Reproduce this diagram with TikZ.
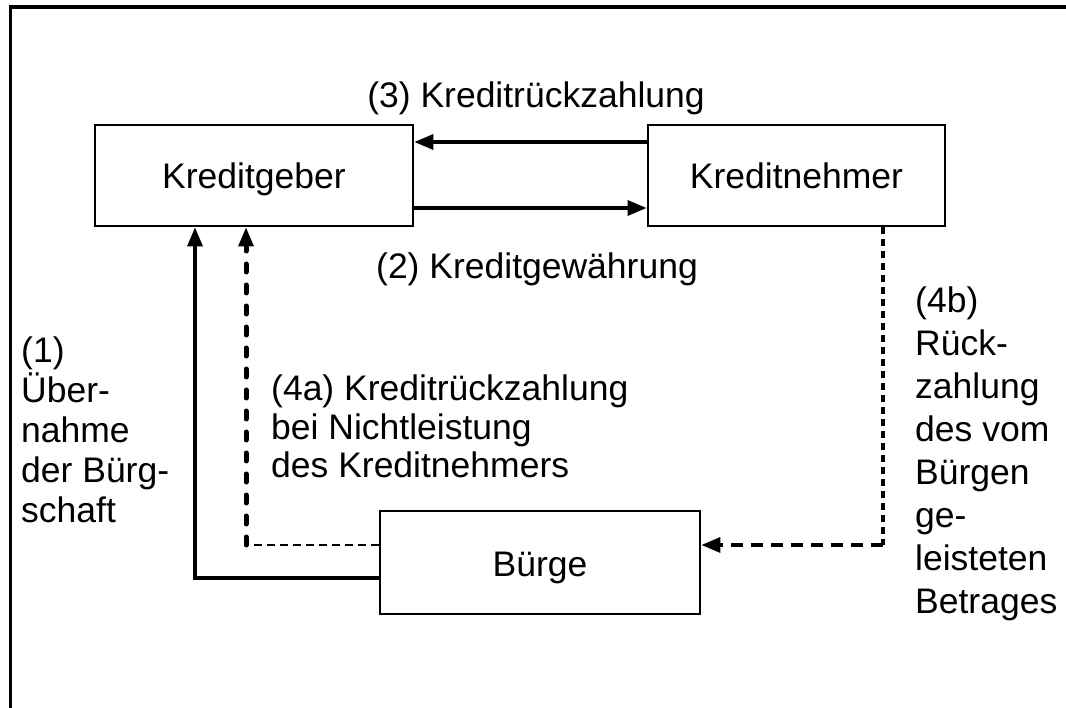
\documentclass[tikz,border=0pt]{standalone}
\usepackage{fontspec}
\setmainfont{Liberation Sans}
\usetikzlibrary{arrows.meta}
\begin{document}
\begin{tikzpicture}[x=1pt,y=-1pt,
  party/.style={draw, line width=2.8pt, inner sep=0pt, minimum height=101pt,
    text height=30pt, text depth=3pt, font=\fontsize{35.5}{40}\selectfont},
  lbl/.style={inner sep=0pt, align=left},
  head/.style={-{Triangle[length=19pt,width=15pt]}},
  flow/.style={line width=3.4pt, head},
  thindash/.style={line width=2.4pt, dash pattern=on 8pt off 5pt},
  middash/.style={line width=3.4pt, dash pattern=on 7pt off 5pt},
  thickdash/.style={line width=5pt, line cap=round, dash pattern=on 8pt off 13pt},
  boldash/.style={line width=4.5pt, dash pattern=on 12pt off 8pt},
]
\useasboundingbox (0,0) rectangle (1066,708);
\fill[white] (0,0) rectangle (1066,708);

% outer frame (top and left edges)
\draw[line width=3.4pt] (10.5,712) -- (10.5,7) -- (1070,7);

% parties
\node[party, minimum width=318pt] (kg) at (254,175.5) {Kreditgeber};
\node[party, minimum width=297pt] (kn) at (796.5,175.5) {Kreditnehmer};
\node[party, minimum width=320pt, minimum height=103pt] (bg) at (540,562.5) {Bürge};

% (2) and (3): credit and repayment
\draw[flow] ([yshift=33.5pt]kn.west) -- ([yshift=33.5pt]kg.east);
\draw[flow] ([yshift=-32.5pt]kg.east) -- ([yshift=-32.5pt]kn.west);

% (1): guarantee
\draw[flow] ([yshift=-15.5pt]bg.west) -| ([xshift=-59pt]kg.south);

% (4a): repayment by the guarantor
\coordinate (a4top) at ([xshift=-8pt]kg.south);
\coordinate (a4start) at ([yshift=17.5pt]bg.west);
\coordinate (a4corner) at (a4top |- a4start);
\draw[thindash] (a4start) -- (a4corner);
\draw[thickdash] (a4corner) -- ([yshift=-20pt]a4top);
\draw[line width=3.4pt, head] ([yshift=-19pt]a4top) -- (a4top);

% (4b): reimbursement of the guarantor
\coordinate (b4top) at ([xshift=86.5pt]kn.south);
\coordinate (b4end) at ([yshift=17.5pt]bg.east);
\coordinate (b4corner) at (b4top |- b4end);
\draw[middash] (b4top) -- (b4corner);
\draw[boldash] (b4corner) -- ([xshift=19pt]b4end);
\draw[line width=3.4pt, head] ([xshift=19pt]b4end) -- (b4end);

% labels
\node[lbl, font=\fontsize{35.5}{40}\selectfont, anchor=base] (t3) at (536,108) {(3) Kreditrückzahlung};
\node[lbl, font=\fontsize{35.5}{40}\selectfont, anchor=base] (t2) at (537,279) {(2) Kreditgewährung};
\node[lbl, font=\fontsize{35.5}{40}\selectfont, anchor=north west] (t1) at (21,337)
  {(1)\\Über-\\nahme\\der Bürg-\\schaft};
\node[lbl, font=\fontsize{35.5}{38.5}\selectfont, anchor=north west] (t4a) at (271,375)
  {(4a) Kreditrückzahlung\\bei Nichtleistung\\des Kreditnehmers};
\node[lbl, font=\fontsize{35.5}{43}\selectfont, anchor=north west] (t4b) at (915,287)
  {(4b)\\Rück-\\zahlung\\des vom\\Bürgen\\ge-\\leisteten\\Betrages};
\end{tikzpicture}
\end{document}
